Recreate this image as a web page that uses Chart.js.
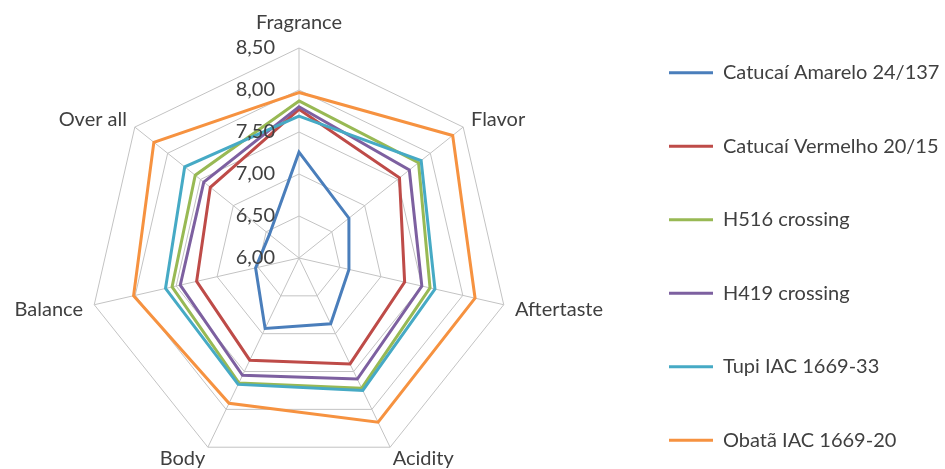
<!DOCTYPE html>
<html>
<head>
<meta charset="utf-8">
<script src="https://cdn.jsdelivr.net/npm/chart.js@4"></script>
<style>
  html, body { margin: 0; padding: 0; background: #fff; overflow: hidden; }
  /* canvas is taller than the window so the radar can sit low like the excel one */
  #chart { position: absolute; left: 0; top: -63px; }
</style>
</head>
<body>
<canvas id="chart" width="945" height="568"></canvas>
<script>
// sensory attributes (spokes, clockwise from top)
const categories = ["Fragrance", "Flavor", "Aftertaste", "Acidity", "Body", "Balance", "Over all"];

const seriesNames = [
    "Catucaí Amarelo 24/137",
    "Catucaí Vermelho 20/15",
    "H516 crossing",
    "H419 crossing",
    "Tupi IAC 1669-33",
    "Obatã IAC 1669-20"
];

// scores
const amarelo  = [7.26, 6.76, 6.61, 6.87, 6.93, 6.53, 6.45];
const vermelho = [7.77, 7.53, 7.29, 7.40, 7.35, 7.25, 7.35];
const h516     = [7.87, 7.82, 7.60, 7.72, 7.65, 7.55, 7.58];
const h419     = [7.80, 7.68, 7.50, 7.60, 7.55, 7.45, 7.45];
const tupi     = [7.69, 7.86, 7.66, 7.75, 7.67, 7.63, 7.74];
const obata    = [7.97, 8.34, 8.15, 8.17, 7.92, 8.02, 8.21];

const tickLabels = ["6,00", "6,50", "7,00", "7,50", "8,00", "8,50"];

const colors = ["#4a7ebb", "#be4b48", "#98b954", "#7d60a0", "#46aac5", "#f69240"];
const seriesValues = [amarelo, vermelho, h516, h419, tupi, obata];

const FONT = "Lato";
const TEXT = "#404040";

// per spoke label tweaks so the labels sit like the excel ones
const labelPad = [-24, 10, 11.5, 6, 6, 11.5, 10];
const labelLine = [98, 2, 5, 11, 11, 5, 2];

// excel style value labels left of the vertical axis (chart.js skips the centre one)
const tickLabelPlugin = {
    id: "tickLabels",
    afterDatasetsDraw(chart) {
        const scale = chart.scales.r;
        const ctx = chart.ctx;
        ctx.save();
        ctx.font = "20px " + FONT;
        ctx.fillStyle = TEXT;
        ctx.textAlign = "right";
        ctx.textBaseline = "middle";
        scale.ticks.forEach((tick) => {
            const p = scale.getPointPosition(0, scale.getDistanceFromCenterForValue(tick.value));
            ctx.fillText(tick.label, p.x - 24, p.y);
        });
        ctx.restore();
    }
};

const datasets = seriesNames.map((name, i) => ({
    label: name,
    data: seriesValues[i],
    borderColor: colors[i],
    backgroundColor: colors[i],
    borderWidth: 3,
    pointRadius: 0,
    pointHoverRadius: 0,
    fill: false,
    // later series on top, like excel
    order: seriesNames.length - i
}));

new Chart(document.getElementById("chart"), {
    type: "radar",
    data: { labels: categories, datasets: datasets },
    plugins: [tickLabelPlugin],
    options: {
        responsive: false,
        animation: false,
        devicePixelRatio: 1,
        layout: { padding: { left: 3, right: 0, top: 0, bottom: 0 } },
        plugins: {
            tooltip: { enabled: false },
            legend: {
                position: "right",
                maxWidth: 329.5,
                // empty title only pushes the items down a bit
                title: { display: true, text: "", padding: 24.1, font: { family: FONT, size: 19 } },
                labels: {
                    usePointStyle: true,
                    pointStyle: "line",
                    pointStyleWidth: 44,
                    padding: 53.5,
                    color: TEXT,
                    font: { family: FONT, size: 20 },
                    sort: (a, b) => a.datasetIndex - b.datasetIndex
                }
            }
        },
        scales: {
            r: {
                min: 6,
                max: 8.5,
                startAngle: 0,
                ticks: {
                    stepSize: 0.5,
                    display: false,
                    callback: (value, index) => tickLabels[index]
                },
                grid: { color: "#c3c3c3", lineWidth: 1 },
                angleLines: { color: "#c3c3c3", lineWidth: 1 },
                pointLabels: {
                    color: TEXT,
                    padding: (ctx) => labelPad[ctx.index],
                    font: (ctx) => ({ family: FONT, size: 20, lineHeight: labelLine[ctx.index] + "px" })
                }
            }
        }
    }
});
</script>
</body>
</html>
